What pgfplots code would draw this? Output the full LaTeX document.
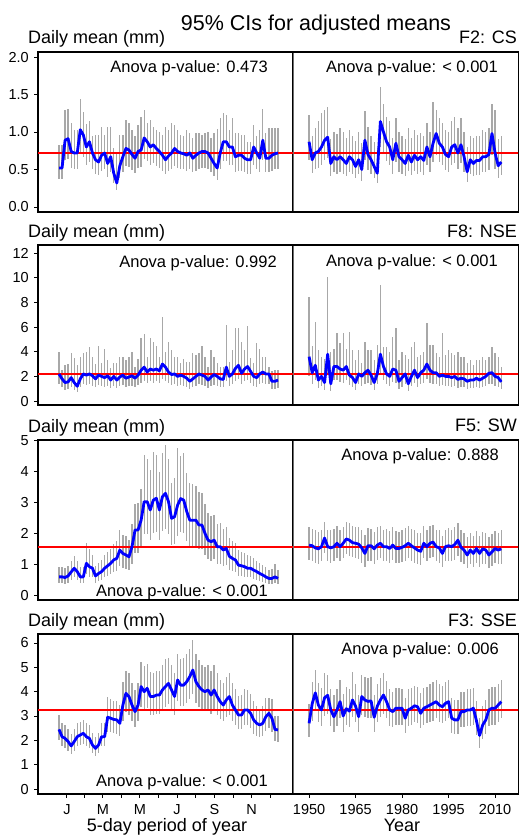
\documentclass[border=0pt]{standalone}
\usepackage{fontspec}
\setmainfont{Liberation Sans}
\usepackage{pgfplots}
\pgfplotsset{compat=1.18}
\usepackage{pgfplotstable}
\definecolor{barg}{HTML}{A8A8A8}
\definecolor{divg}{HTML}{6E6E6E}
\newcommand\fs[1]{\fontsize{#1}{#1}\selectfont}

% ---------- Row 1: F2: CS ----------
\pgfplotstableread{
x m lo hi
1 0.52 0.37 0.83
2 0.52 0.37 0.83
3 0.89 0.62 1.30
4 0.91 0.64 1.31
5 0.74 0.52 1.12
6 0.72 0.50 1.03
7 0.72 0.50 1.03
8 1.03 0.72 1.44
9 0.96 0.66 1.27
10 0.80 0.56 1.10
11 0.87 0.60 1.15
12 0.72 0.50 0.95
13 0.63 0.44 0.96
14 0.60 0.42 0.96
15 0.69 0.48 1.07
16 0.72 0.50 0.96
17 0.58 0.40 1.07
18 0.67 0.47 1.07
19 0.45 0.32 0.78
20 0.32 0.22 0.70
21 0.55 0.38 0.96
22 0.67 0.47 0.96
23 0.78 0.55 1.16
24 0.76 0.53 1.12
25 0.70 0.49 1.03
26 0.65 0.45 0.95
27 0.74 0.52 1.09
28 0.76 0.53 1.20
29 0.92 0.64 1.30
30 0.87 0.61 1.12
31 0.80 0.56 1.16
32 0.83 0.58 1.07
33 0.78 0.55 1.03
34 0.74 0.52 1.00
35 0.69 0.48 0.96
36 0.63 0.44 1.07
37 0.68 0.48 1.03
38 0.72 0.50 1.12
39 0.78 0.55 1.09
40 0.74 0.52 1.03
41 0.72 0.50 0.96
42 0.71 0.50 0.94
43 0.69 0.48 1.03
44 0.72 0.50 0.98
45 0.65 0.46 0.92
46 0.69 0.48 0.98
47 0.72 0.50 0.98
48 0.74 0.52 0.96
49 0.74 0.52 0.98
50 0.72 0.50 1.00
51 0.65 0.46 0.92
52 0.58 0.41 0.98
53 0.52 0.36 1.04
54 0.72 0.50 1.18
55 0.87 0.61 1.25
56 0.87 0.61 1.23
57 0.80 0.56 1.03
58 0.80 0.56 1.18
59 0.67 0.47 0.98
60 0.69 0.48 0.98
61 0.69 0.48 0.96
62 0.65 0.46 0.96
63 0.63 0.44 0.87
64 0.63 0.44 0.87
65 0.80 0.56 1.09
66 0.72 0.50 0.94
67 0.65 0.46 1.03
68 0.89 0.62 1.31
69 0.65 0.46 0.98
70 0.65 0.46 1.05
71 0.69 0.48 1.05
72 0.71 0.50 1.05
73 0.72 0.50 1.05
}\tAL
\pgfplotstableread{
x m lo hi
1950 0.87 0.62 1.23
1951 0.63 0.45 0.95
1952 0.72 0.50 1.05
1953 0.74 0.52 1.15
1954 0.80 0.56 1.25
1955 0.89 0.62 1.30
1956 0.93 0.65 1.34
1957 0.58 0.41 0.90
1958 0.67 0.47 1.00
1959 0.63 0.44 0.97
1960 0.67 0.47 1.05
1961 0.63 0.44 1.00
1962 0.58 0.41 0.92
1963 0.67 0.47 1.02
1964 0.63 0.44 0.95
1965 0.54 0.38 0.88
1966 0.63 0.44 1.00
1967 0.50 0.35 0.85
1968 0.89 0.62 1.28
1969 0.70 0.49 1.06
1970 0.63 0.44 0.95
1971 0.54 0.38 0.86
1972 0.45 0.32 0.78
1973 1.14 0.80 1.60
1974 1.00 0.70 1.38
1975 0.87 0.61 1.20
1976 0.80 0.56 1.15
1977 0.63 0.44 0.92
1978 0.85 0.60 1.18
1979 0.67 0.47 1.00
1980 0.63 0.44 0.95
1981 0.58 0.41 0.90
1982 0.69 0.48 1.05
1983 0.60 0.42 0.92
1984 0.69 0.48 1.02
1985 0.63 0.44 0.96
1986 0.67 0.47 0.98
1987 0.62 0.43 0.95
1988 0.80 0.56 1.12
1989 0.67 0.47 1.00
1990 0.85 0.60 1.40
1991 0.98 0.69 1.30
1992 0.85 0.60 1.18
1993 0.80 0.56 1.12
1994 0.70 0.49 1.02
1995 0.67 0.47 1.00
1996 0.80 0.56 1.15
1997 0.83 0.58 1.20
1998 0.72 0.50 1.05
1999 0.83 0.58 1.18
2000 0.67 0.47 1.00
2001 0.47 0.33 0.80
2002 0.63 0.44 0.95
2003 0.58 0.41 0.92
2004 0.62 0.43 0.95
2005 0.62 0.43 0.95
2006 0.67 0.47 1.02
2007 0.67 0.47 1.00
2008 0.70 0.49 1.05
2009 0.98 0.69 1.38
2010 0.72 0.50 1.30
2011 0.55 0.38 0.90
2012 0.60 0.42 0.95
}\tAR

% ---------- Row 2: F8: NSE ----------
\pgfplotstableread{
x m lo hi
1 2.2 1.4 4.0
2 1.8 1.1 2.5
3 1.5 0.9 2.9
4 1.55 0.95 3.0
5 1.9 1.15 3.9
6 1.5 0.9 3.5
7 1.2 0.75 2.9
8 1.8 1.1 3.6
9 2.2 1.35 3.87
10 2.1 1.3 4.0
11 2.2 1.35 4.4
12 2.05 1.25 3.6
13 1.8 1.1 3.0
14 2.1 1.3 4.5
15 2.0 1.2 3.1
16 1.9 1.15 4.2
17 2.05 1.25 3.3
18 1.7 1.05 2.7
19 2.0 1.2 3.1
20 1.7 1.05 3.1
21 1.95 1.2 3.6
22 2.1 1.3 3.6
23 1.85 1.15 3.3
24 1.95 1.2 3.6
25 2.05 1.25 4.0
26 1.85 1.15 2.8
27 2.1 1.3 3.4
28 2.5 1.5 5.1
29 2.75 1.65 5.4
30 2.35 1.45 3.6
31 2.6 1.6 5.1
32 2.5 1.5 4.8
33 2.6 1.6 4.5
34 2.45 1.5 3.6
35 3.0 1.8 6.8
36 2.75 1.65 4.0
37 2.35 1.45 4.8
38 2.15 1.3 4.1
39 2.2 1.35 3.6
40 2.0 1.2 3.6
41 2.1 1.3 3.1
42 2.0 1.2 3.4
43 1.85 1.15 3.2
44 1.6 1.0 3.2
45 1.8 1.1 3.9
46 2.0 1.2 3.7
47 2.2 1.35 3.9
48 2.1 1.3 4.5
49 2.0 1.2 3.6
50 1.7 1.05 2.8
51 1.95 1.2 4.1
52 2.15 1.3 3.6
53 2.0 1.2 3.1
54 1.8 1.1 2.8
55 1.75 1.1 2.8
56 2.75 1.65 6.2
57 2.0 1.2 3.2
58 2.2 1.35 4.1
59 2.65 1.6 5.9
60 2.9 1.75 5.9
61 2.25 1.4 4.8
62 2.6 1.6 4.1
63 2.8 1.7 6.1
64 2.4 1.45 3.5
65 2.0 1.2 3.1
66 1.9 1.15 4.7
67 2.2 1.35 4.2
68 2.35 1.45 3.6
69 2.2 1.35 3.6
70 2.2 1.35 2.8
71 1.6 1.0 2.4
72 1.6 1.0 2.5
73 1.7 1.05 2.5
}\tBL
\pgfplotstableread{
x m lo hi
1950 3.6 2.0 8.46
1951 2.3 1.4 4.5
1952 2.9 1.7 6.43
1953 1.7 1.05 4.14
1954 2.0 1.2 3.6
1955 1.5 0.9 3.4
1956 3.8 2.1 10.08
1957 1.4 0.85 4.0
1958 2.8 1.7 4.2
1959 2.8 1.7 5.49
1960 2.6 1.55 4.68
1961 2.5 1.5 5.49
1962 2.8 1.7 4.2
1963 2.1 1.3 5.62
1964 1.9 1.15 4.14
1965 1.5 0.9 3.3
1966 2.2 1.35 4.14
1967 2.0 1.2 3.05
1968 2.3 1.4 4.81
1969 2.5 1.5 4.14
1970 2.1 1.3 4.14
1971 1.5 0.9 3.3
1972 2.2 1.35 4.54
1973 3.8 2.1 9.41
1974 2.8 1.7 4.41
1975 2.2 1.35 4.41
1976 2.0 1.2 4.0
1977 2.6 1.55 5.22
1978 2.5 1.5 5.89
1979 1.6 1.0 3.3
1980 1.9 1.15 4.0
1981 2.2 1.35 3.73
1982 1.4 0.85 3.4
1983 2.0 1.2 4.41
1984 2.5 1.5 4.81
1985 1.9 1.15 3.6
1986 2.3 1.4 3.73
1987 2.5 1.5 4.0
1988 3.0 1.8 6.3
1989 2.5 1.5 4.54
1990 2.3 1.4 4.54
1991 2.3 1.4 3.87
1992 2.0 1.2 3.6
1993 2.1 1.3 5.49
1994 2.0 1.2 3.73
1995 2.0 1.2 4.14
1996 1.9 1.15 3.87
1997 2.0 1.2 3.73
1998 1.75 1.05 4.0
1999 1.85 1.1 3.6
2000 1.8 1.1 3.6
2001 1.6 1.0 3.05
2002 1.7 1.05 3.3
2003 1.7 1.05 2.92
2004 1.85 1.1 3.33
2005 1.7 1.05 3.33
2006 1.85 1.1 3.6
2007 2.0 1.2 3.3
2008 2.25 1.35 3.6
2009 2.3 1.4 4.41
2010 2.0 1.2 3.87
2011 1.9 1.15 3.6
2012 1.55 0.95 2.8
}\tBR

% ---------- Row 3: F5: SW ----------
\pgfplotstableread{
x m lo hi
1 0.59 0.38 0.92
2 0.59 0.38 0.90
3 0.57 0.37 0.88
4 0.62 0.40 0.95
5 0.75 0.49 1.12
6 0.87 0.57 1.28
7 0.76 0.49 1.12
8 0.59 0.38 0.90
9 0.59 0.38 0.92
10 1.03 0.67 1.69
11 0.92 0.60 1.50
12 0.87 0.57 1.30
13 0.62 0.40 0.95
14 0.70 0.46 1.05
15 0.76 0.49 1.15
16 0.87 0.57 1.30
17 0.95 0.62 1.40
18 1.03 0.67 1.50
19 1.14 0.74 1.65
20 1.19 0.77 1.75
21 1.46 0.95 2.10
22 1.35 0.88 1.95
23 1.30 0.85 1.90
24 1.24 0.81 1.80
25 1.57 1.02 2.30
26 2.11 1.37 2.95
27 2.11 1.37 3.00
28 2.43 1.58 3.45
29 3.03 1.97 4.55
30 3.03 1.97 4.40
31 2.76 1.79 4.05
32 3.08 2.00 4.65
33 3.14 2.04 4.55
34 2.76 1.79 4.00
35 3.19 2.07 4.60
36 3.30 2.15 4.87
37 3.03 1.97 4.40
38 2.49 1.62 3.65
39 2.54 1.65 3.80
40 2.92 1.90 4.76
41 3.13 2.03 4.50
42 3.08 2.00 4.60
43 2.71 1.76 3.95
44 2.43 1.58 3.65
45 2.43 1.58 3.60
46 2.43 1.58 3.55
47 2.27 1.48 3.35
48 2.27 1.48 3.30
49 2.00 1.30 2.95
50 1.78 1.16 2.65
51 1.73 1.12 2.55
52 1.78 1.16 2.60
53 1.57 1.02 2.30
54 1.57 1.02 2.35
55 1.46 0.95 2.15
56 1.51 0.98 2.20
57 1.26 0.82 1.85
58 1.19 0.77 1.75
59 1.14 0.74 1.70
60 0.97 0.63 1.45
61 0.95 0.62 1.40
62 0.92 0.60 1.35
63 0.87 0.57 1.30
64 0.87 0.57 1.28
65 0.81 0.53 1.20
66 0.76 0.49 1.12
67 0.70 0.46 1.05
68 0.65 0.42 0.98
69 0.59 0.38 0.90
70 0.54 0.35 0.82
71 0.54 0.35 0.85
72 0.59 0.38 1.00
73 0.54 0.35 0.82
}\tCL
\pgfplotstableread{
x m lo hi
1950 1.62 1.15 2.20
1951 1.60 1.12 2.15
1952 1.53 1.05 2.10
1953 1.50 1.02 2.05
1954 1.57 1.10 2.12
1955 1.85 1.35 2.38
1956 1.57 1.10 2.12
1957 1.53 1.05 2.10
1958 1.57 1.10 2.15
1959 1.68 1.20 2.25
1960 1.57 1.10 2.12
1961 1.68 1.20 2.22
1962 1.82 1.32 2.38
1963 1.78 1.28 2.35
1964 1.70 1.22 2.25
1965 1.68 1.20 2.22
1966 1.65 1.18 2.20
1967 1.53 1.05 2.10
1968 1.35 0.92 1.95
1969 1.60 1.12 2.18
1970 1.60 1.12 2.15
1971 1.50 1.02 2.05
1972 1.62 1.15 2.20
1973 1.68 1.20 2.25
1974 1.57 1.10 2.12
1975 1.57 1.10 2.15
1976 1.51 1.05 2.08
1977 1.62 1.15 2.20
1978 1.51 1.05 2.08
1979 1.51 1.05 2.05
1980 1.55 1.08 2.10
1981 1.60 1.12 2.18
1982 1.68 1.20 2.25
1983 1.60 1.12 2.15
1984 1.53 1.05 2.10
1985 1.46 1.00 2.02
1986 1.42 0.98 2.00
1987 1.68 1.20 2.25
1988 1.57 1.10 2.12
1989 1.68 1.20 2.25
1990 1.72 1.23 2.28
1991 1.57 1.10 2.12
1992 1.53 1.05 2.10
1993 1.35 0.92 1.92
1994 1.57 1.10 2.12
1995 1.60 1.12 2.18
1996 1.57 1.10 2.12
1997 1.64 1.15 2.22
1998 1.78 1.28 2.35
1999 1.55 1.08 2.10
2000 1.46 1.00 2.02
2001 1.30 0.88 1.88
2002 1.46 1.00 2.02
2003 1.35 0.92 1.92
2004 1.51 1.05 2.08
2005 1.35 0.92 1.92
2006 1.50 1.02 2.05
2007 1.46 1.00 2.02
2008 1.30 0.88 1.88
2009 1.40 0.95 1.98
2010 1.51 1.05 2.08
2011 1.46 1.00 2.02
2012 1.50 1.02 2.10
}\tCR

% ---------- Row 4: F3: SSE ----------
\pgfplotstableread{
x m lo hi
1 2.45 2.00 3.04
2 2.15 1.75 2.70
3 2.08 1.70 2.62
4 1.95 1.58 2.48
5 1.77 1.44 2.25
6 1.95 1.58 2.48
7 2.15 1.75 2.70
8 2.22 1.80 2.75
9 2.29 1.86 2.82
10 2.15 1.75 2.70
11 2.08 1.70 2.62
12 1.81 1.47 2.30
13 1.67 1.36 2.12
14 1.81 1.47 2.30
15 2.15 1.75 2.70
16 2.15 1.75 2.72
17 2.95 2.35 3.78
18 2.91 2.33 3.70
19 2.86 2.30 3.62
20 2.84 2.28 3.60
21 2.70 2.18 3.45
22 3.45 2.78 4.40
23 3.93 3.15 4.85
24 3.80 3.05 4.75
25 3.45 2.78 4.35
26 3.18 2.55 4.05
27 3.45 2.78 4.35
28 4.21 3.38 5.20
29 4.00 3.22 5.05
30 4.14 3.32 5.15
31 3.80 3.05 4.80
32 3.80 3.05 4.75
33 3.86 3.10 4.85
34 3.86 3.10 4.85
35 4.07 3.27 5.10
36 4.21 3.38 5.35
37 4.34 3.48 5.40
38 4.07 3.27 5.10
39 3.80 3.05 4.78
40 4.48 3.60 5.55
41 4.27 3.43 5.35
42 4.27 3.43 5.40
43 4.41 3.55 5.55
44 4.62 3.70 5.75
45 4.89 3.90 6.12
46 4.41 3.55 5.55
47 4.21 3.38 5.30
48 4.07 3.27 5.10
49 4.00 3.22 5.00
50 4.07 3.27 5.10
51 3.86 3.10 4.85
52 4.07 3.27 5.10
53 3.80 3.05 4.78
54 3.59 2.88 4.50
55 3.45 2.78 4.35
56 3.66 2.94 4.60
57 3.80 3.05 4.75
58 3.45 2.78 4.35
59 3.25 2.61 4.10
60 3.04 2.45 3.82
61 3.04 2.45 3.85
62 3.25 2.61 4.10
63 3.25 2.61 4.08
64 3.11 2.50 3.90
65 2.84 2.28 3.60
66 2.70 2.18 3.40
67 2.63 2.12 3.30
68 2.70 2.18 3.40
69 2.97 2.38 3.75
70 3.11 2.50 3.75
71 2.91 2.33 3.70
72 2.45 1.98 3.00
73 2.43 1.95 3.00
}\tDL
\pgfplotstableread{
x m lo hi
1950 2.70 2.15 3.50
1951 3.50 2.80 4.40
1952 3.95 3.20 4.89
1953 3.45 2.75 4.35
1954 3.25 2.60 4.15
1955 3.75 3.00 4.75
1956 3.85 3.10 4.70
1957 3.25 2.60 4.10
1958 2.97 2.35 3.85
1959 3.25 2.60 4.10
1960 3.59 2.90 4.50
1961 3.00 2.35 3.90
1962 3.30 2.65 4.20
1963 3.20 2.55 4.10
1964 3.66 2.95 4.80
1965 3.40 2.75 4.30
1966 2.97 2.35 3.85
1967 3.80 3.05 4.70
1968 3.66 2.95 4.60
1969 3.60 2.90 4.55
1970 3.62 2.90 4.60
1971 2.95 2.35 3.85
1972 3.40 2.75 4.30
1973 3.66 2.95 4.55
1974 3.86 3.10 4.75
1975 3.59 2.90 4.45
1976 3.25 2.60 4.10
1977 3.18 2.55 4.00
1978 3.32 2.65 4.15
1979 3.32 2.65 4.15
1980 3.32 2.65 4.10
1981 2.91 2.30 3.75
1982 3.25 2.60 4.10
1983 3.32 2.65 4.15
1984 3.42 2.75 4.25
1985 3.38 2.70 4.20
1986 3.11 2.50 3.95
1987 3.32 2.65 4.15
1988 3.38 2.70 4.20
1989 3.45 2.75 4.30
1990 3.52 2.80 4.40
1991 3.59 2.90 4.50
1992 3.45 2.75 4.30
1993 3.38 2.70 4.25
1994 3.52 2.80 4.40
1995 3.59 2.90 4.50
1996 2.91 2.30 3.75
1997 2.84 2.25 3.65
1998 2.84 2.25 3.65
1999 3.18 2.55 4.00
2000 3.18 2.55 4.00
2001 3.25 2.60 4.10
2002 3.25 2.60 4.10
2003 3.32 2.65 4.15
2004 2.80 2.20 3.60
2005 2.20 1.70 2.90
2006 2.63 2.05 3.40
2007 2.84 2.25 3.65
2008 3.25 2.60 4.10
2009 3.32 2.65 4.20
2010 3.32 2.65 4.20
2011 3.45 2.75 4.30
2012 3.59 2.90 4.50
}\tDR

\pgfplotsset{
  panel/.style={scale only axis, height=160pt, anchor=south west,
    axis line style={line width=1.1pt, black},
    every tick/.style={black, line width=0.9pt},
    tick align=outside, major tick length=4pt,
    xtick pos=bottom, ytick pos=left,
    tick label style={font=\fs{14.5}},
    /pgf/number format/assume math mode=true,
    /pgf/number format/1000 sep={},
    yticklabel style={anchor=east, inner sep=0pt, xshift=-5pt},
    xticklabel style={anchor=base, inner sep=0pt, yshift=-16.5pt},
    xtick=\empty},
  leftp/.style={panel, width=255pt, xmin=-5.904, xmax=77.93},
  rightp/.style={panel, width=225pt, xmin=1944.84, xmax=2017.42, ytick=\empty},
}
\newcommand\panelplots[2]{%
  \addplot[barg, only marks, mark=*, mark size=0.1pt,
    mark options={draw opacity=0, fill opacity=0}, forget plot,
    error bars/.cd, y dir=both, y explicit, error mark=none,
    error bar style={draw=barg, draw opacity=1, line width=1.3pt}]
    table[x=x, y=m, y error plus expr=\thisrow{hi}-\thisrow{m},
          y error minus expr=\thisrow{m}-\thisrow{lo}] {#1};
  \addplot[red, line width=2.3pt, mark=none, forget plot] coordinates {(-100,#2) (3000,#2)};
  \addplot[blue, line width=2.8pt, mark=none, line join=round, forget plot] table[x=x, y=m] {#1};
}

\begin{document}
\begin{tikzpicture}
\useasboundingbox (0,0) rectangle (524pt,836pt);

% Row 1
\begin{axis}[leftp, at={(38pt,624pt)}, ymin=-0.067, ymax=2.067, ytick={0,0.5,1,1.5,2},
  yticklabel style={/pgf/number format/.cd, fixed, fixed zerofill, precision=1}]
\panelplots{\tAL}{0.72}
\end{axis}
\begin{axis}[rightp, at={(293pt,624pt)}, ymin=-0.067, ymax=2.067]
\panelplots{\tAR}{0.72}
\end{axis}

% Row 2
\begin{axis}[leftp, at={(38pt,431pt)}, ymin=-0.32, ymax=12.65, ytick={0,2,...,12}]
\panelplots{\tBL}{2.19}
\end{axis}
\begin{axis}[rightp, at={(293pt,431pt)}, ymin=-0.32, ymax=12.65]
\panelplots{\tBR}{2.19}
\end{axis}

% Row 3
\begin{axis}[leftp, at={(38pt,236pt)}, ymin=-0.16, ymax=5.03, ytick={0,1,...,5}]
\panelplots{\tCL}{1.57}
\end{axis}
\begin{axis}[rightp, at={(293pt,236pt)}, ymin=-0.16, ymax=5.03]
\panelplots{\tCR}{1.57}
\end{axis}

% Row 4
\begin{axis}[leftp, at={(38pt,42pt)}, ymin=-0.205, ymax=6.37, ytick={0,1,...,6},
  xtick={3.6,9.5,15.4,21.5,27.6,33.7,39.8,46.0,52.1,58.2,64.3,70.4},
  xticklabels={J,,M,,M,,J,,S,,N,}]
\panelplots{\tDL}{3.25}
\end{axis}
\begin{axis}[rightp, at={(293pt,42pt)}, ymin=-0.205, ymax=6.37,
  xtick={1950,1965,1980,1995,2010}]
\panelplots{\tDR}{3.25}
\end{axis}

% dividers
\foreach \yb in {624,431,236,42} {
  \draw[divg, line width=1pt] (293pt,\yb pt+0.6pt) -- (293pt,\yb pt+159.4pt);
}

% texts
\node[anchor=base, inner sep=0pt] at (316pt,805.3pt) {\fs{21.5}95\% CIs for adjusted means};

\node[anchor=base west, inner sep=0pt] at (28pt,792pt) {\fs{18}Daily mean (mm)};
\node[anchor=base west, inner sep=0pt] at (28pt,598pt) {\fs{18}Daily mean (mm)};
\node[anchor=base west, inner sep=0pt] at (28pt,403pt) {\fs{18}Daily mean (mm)};
\node[anchor=base west, inner sep=0pt] at (28pt,209pt) {\fs{18}Daily mean (mm)};

\node[anchor=base east, inner sep=0pt] at (517pt,792.7pt) {\fs{18}F2: CS};
\node[anchor=base east, inner sep=0pt] at (517pt,598.3pt) {\fs{18}F8: NSE};
\node[anchor=base east, inner sep=0pt] at (517pt,404pt) {\fs{18}F5: SW};
\node[anchor=base east, inner sep=0pt] at (517pt,209.3pt) {\fs{18}F3: SSE};

\node[anchor=base east, inner sep=0pt] at (268pt,763.7pt) {\fs{16.5}Anova p-value: 0.473};
\node[anchor=base east, inner sep=0pt] at (498pt,763.3pt) {\fs{16.5}Anova p-value: < 0.001};
\node[anchor=base east, inner sep=0pt] at (277pt,568.7pt) {\fs{16.5}Anova p-value: 0.992};
\node[anchor=base east, inner sep=0pt] at (498pt,569.3pt) {\fs{16.5}Anova p-value: < 0.001};
\node[anchor=base east, inner sep=0pt] at (268pt,239.3pt) {\fs{16.5}Anova p-value: < 0.001};
\node[anchor=base east, inner sep=0pt] at (499pt,375pt) {\fs{16.5}Anova p-value: 0.888};
\node[anchor=base east, inner sep=0pt] at (268pt,49.3pt) {\fs{16.5}Anova p-value: < 0.001};
\node[anchor=base east, inner sep=0pt] at (499pt,181.7pt) {\fs{16.5}Anova p-value: 0.006};

\node[anchor=base, inner sep=0pt] at (167pt,5pt) {\fs{18}5-day period of year};
\node[anchor=base, inner sep=0pt] at (402pt,4.5pt) {\fs{18}Year};
\end{tikzpicture}
\end{document}
